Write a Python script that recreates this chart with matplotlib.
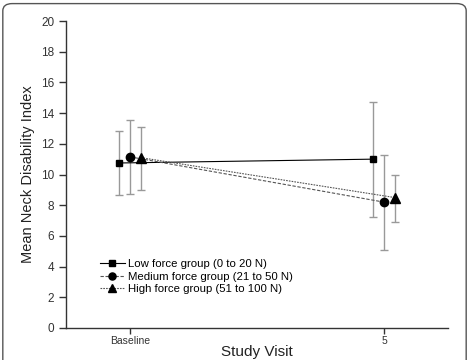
import matplotlib
matplotlib.use("Agg")
import matplotlib.pyplot as plt
from matplotlib.patches import FancyBboxPatch
import numpy as np

plt.rcParams['font.family'] = ['Liberation Sans', 'DejaVu Sans']

# data
visits = ["Baseline", "5"]
groups = ["Low force group (0 to 20 N)",
          "Medium force group (21 to 50 N)",
          "High force group (51 to 100 N)"]
low_mean = [10.75, 11.0]
low_lo = [8.65, 7.25]
low_hi = [12.85, 14.75]
med_mean = [11.15, 8.2]
med_lo = [8.7, 5.1]
med_hi = [13.55, 11.3]
high_mean = [11.1, 8.5]
high_lo = [9.0, 6.9]
high_hi = [13.1, 10.0]

fig = plt.figure(figsize=(4.69, 3.6), dpi=100)
ax = fig.add_axes([66 / 469, 1 - 328 / 360, (448 - 66) / 469, (328 - 21) / 360])

# rounded frame round the figure
frame = FancyBboxPatch((0.006, -0.05), 0.988, 1.04, boxstyle="round,pad=0,rounding_size=0.02",
                       transform=fig.transFigure, fill=False, edgecolor='#555555',
                       linewidth=1.0, clip_on=False)
fig.patches.append(frame)

x = np.arange(1, len(visits) + 1)
offsets = [-0.042, 0.0, 0.042]
series = [(low_mean, low_lo, low_hi, 's', '-', 'black', 5),
          (med_mean, med_lo, med_hi, 'o', (0, (3, 1.5)), '#555555', 6),
          (high_mean, high_lo, high_hi, '^', (0, (1.5, 1)), '#555555', 6.5)]

for (m, lo, hi, mk, ls, lc, ms), off, name in zip(series, offsets, groups):
    m = np.array(m)
    yerr = [m - np.array(lo), np.array(hi) - m]
    ax.errorbar(x + off, m, yerr=yerr, fmt='none', ecolor='#999999',
                elinewidth=1.0, capsize=3, capthick=1.0, zorder=1)
    ax.plot(x + off, m, linestyle=ls, color=lc, linewidth=0.8, zorder=2)
    ax.plot([], [], linestyle=ls, color=lc, linewidth=0.8, marker=mk,
            markersize=ms * 0.85, markerfacecolor='black', markeredgecolor='black', label=name)
    ax.plot(x + off, m, linestyle='none', marker=mk, markersize=ms,
            markerfacecolor='black', markeredgecolor='black', zorder=3)

ax.set_xlim(0.748, 2.252)
ax.set_ylim(0, 20)
ax.set_yticks(np.arange(0, 21, 2))
ax.set_xticks(x)
ax.set_xticklabels(visits, fontsize=7.5, color='#333333')
ax.tick_params(axis='y', labelsize=8.5, length=5, width=1, colors='#333333')
ax.tick_params(axis='x', length=4, width=1, pad=2, colors='#333333')
for s in ['top', 'right']:
    ax.spines[s].set_visible(False)
for s in ['left', 'bottom']:
    ax.spines[s].set_linewidth(1.0)
    ax.spines[s].set_color('#333333')

ax.set_ylabel("Mean Neck Disability Index", fontsize=10.5, color='#222222', labelpad=4)
ax.set_xlabel("Study Visit", fontsize=11, color='#222222', labelpad=-1)

ax.legend(loc='lower left', bbox_to_anchor=(0.068, 0.085), frameon=False, fontsize=8.2,
          handlelength=2.2, handletextpad=0.3, labelspacing=0.2, borderpad=0.2)

fig.savefig("out.png", dpi=100)
